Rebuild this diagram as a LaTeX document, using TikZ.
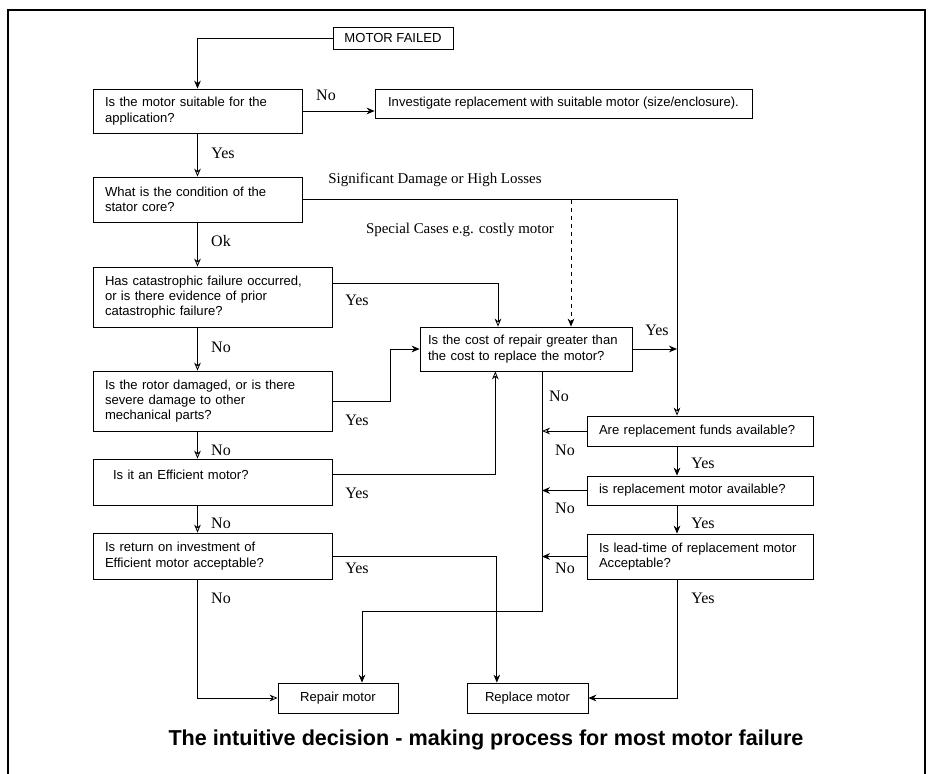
\documentclass[tikz,border=0pt]{standalone}
\usepackage{fontspec}
\setmainfont{Liberation Serif}
\setsansfont{Liberation Sans}
\usetikzlibrary{arrows.meta,positioning}

\begin{document}
\begin{tikzpicture}[x=0.75pt, y=-0.75pt,
  >=Stealth,
  box/.style={
    draw,
    line width=0.6pt,
    align=left,
    inner xsep=9pt,
    inner ysep=2pt,
    font=\sffamily\fontsize{9.8}{11.5}\selectfont
  },
  term/.style={box, align=center, inner xsep=4pt},
  lbl/.style={font=\fontsize{12}{14}\selectfont, inner sep=0pt},
  note/.style={font=\fontsize{11.2}{13}\selectfont, inner sep=0pt},
  arr/.style={-{Stealth[length=6pt,width=5pt]}, line width=0.6pt},
  oarr/.style={-{Stealth[open,length=6pt,width=5pt]}, line width=0.6pt}
]
\useasboundingbox (0,0) rectangle (931,774);
\draw[line width=0.9pt] (8,774) -- (8,10) -- (925,10) -- (925,774);

% left column
\node[term, minimum width=90pt, minimum height=16.5pt] (fail) at (393,38) {MOTOR FAILED};
\node[box, text width=138.75pt, minimum height=33pt] (suit) at (197.5,111)
{Is the motor suitable for the\\application?};
\node[term, minimum width=282.75pt, minimum height=21.75pt] (inv) at (563.5,103.5)
{Investigate replacement with suitable motor (size/enclosure).};
\node[box, text width=138.75pt, minimum height=33.75pt] (stat) at (197.5,199.5)
{What is the condition of the\\stator core?};
\node[box, text width=161.25pt, minimum height=45pt] (cat) at (212.5,297)
{Has catastrophic failure occurred,\\or is there evidence of prior\\catastrophic failure?};
\node[box, text width=161.25pt, minimum height=45pt] (rot) at (212.5,401)
{Is the rotor damaged, or is there\\severe damage to other\\mechanical parts?};
\node[box, text width=161.25pt, minimum height=34.5pt] (eff) at (212.5,482)
{\hspace*{6pt}Is it an Efficient motor?\\\mbox{}};
\node[box, text width=161.25pt, minimum height=34.5pt] (roi) at (212.5,556)
{Is return on investment of\\Efficient motor acceptable?};

% right side
\node[box, inner xsep=6pt, text width=147pt, minimum height=33pt] (cost) at (526,349)
{Is the cost of repair greater than\\the cost to replace the motor?};
\node[box, text width=151.5pt, minimum height=22.5pt] (fund) at (700,431)
{Are replacement funds available?};
\node[box, text width=151.5pt, minimum height=21.75pt] (avail) at (700,490.5)
{is replacement motor available?};
\node[box, text width=151.5pt, minimum height=33.75pt] (lead) at (700,556.5)
{Is lead-time of replacement motor\\Acceptable?};
\node[term, minimum width=90pt, minimum height=22.5pt] (fix) at (338,698) {Repair motor};
\node[term, minimum width=90.75pt, minimum height=22.5pt] (rep) at (527.5,698) {Replace motor};

\node[font=\sffamily\bfseries\fontsize{16.2}{19}\selectfont] (title) at (486,740)
{The intuitive decision - making process for most motor failure};

\coordinate (rj) at (677,0);
\coordinate (sp) at (571,0);
\coordinate (nl) at (542,611);

% connectors
\draw[arr] (fail.west) -| (suit.north);
\draw[arr] (suit.east) -- (suit.east -| inv.west);
\draw[oarr] (suit.south) -- (stat.north);
\draw[oarr] (stat.south) -- (stat.south |- cat.north);
\draw[oarr] (stat.east) -| (rj |- fund.north);
\draw[arr, dashed] (sp |- stat.east) -- (sp |- cost.north);
\draw[oarr] ([yshift=10.5pt]cat.east) -| ([xshift=-21pt]cost.north);
\draw[oarr] (stat.south |- cat.south) -- (stat.south |- rot.north);
\draw[arr] (rot.east) -- ++(58,0) |- (cost.west);
\draw[oarr] (stat.south |- rot.south) -- (stat.south |- eff.north);
\draw[oarr] ([yshift=6pt]eff.east) -| ([xshift=-23pt]cost.south);
\draw[oarr] (stat.south |- eff.south) -- (stat.south |- roi.north);
\draw[arr] (roi.east) -| ([xshift=-23pt]rep.north);
\draw[oarr] (stat.south |- roi.south) |- (fix.west);
\draw[arr] (cost.east) -- (cost.east -| rj);
\draw[arr] ([xshift=12pt]cost.south) -- (nl) -| ([xshift=18pt]fix.north);
\draw[oarr] (fund.west) -- (fund.west -| nl);
\draw[arr] (avail.west) -- (avail.west -| nl);
\draw[arr] (lead.west) -- (lead.west -| nl);
\draw[arr] (rj |- fund.south) -- (rj |- avail.north);
\draw[arr] (rj |- avail.south) -- (rj |- lead.north);
\draw[arr] (rj |- lead.south) |- (rep.east);

% labels
\node[lbl] (no1) at (326,95) {No};
\node[lbl] (yes1) at (223,153) {Yes};
\node[note] (sig) at (435,180) {Significant Damage or High Losses};
\node[note] (spc) at (460,230) {Special Cases e.g. costly motor};
\node[lbl] (ok) at (221,241) {Ok};
\node[lbl] (yes2) at (357,300) {Yes};
\node[lbl] (no2) at (221,347) {No};
\node[lbl] (yes3) at (357,420) {Yes};
\node[lbl] (no3) at (221,450) {No};
\node[lbl] (yes4) at (357,493) {Yes};
\node[lbl] (no4) at (221,523) {No};
\node[lbl] (yes5) at (357,568) {Yes};
\node[lbl] (no5) at (221,598) {No};
\node[lbl] (yes6) at (657,330) {Yes};
\node[lbl] (no6) at (559,396) {No};
\node[lbl] (no7) at (565,450) {No};
\node[lbl] (no8) at (565,508) {No};
\node[lbl] (no9) at (565,568) {No};
\node[lbl] (yes7) at (703,463) {Yes};
\node[lbl] (yes8) at (703,523) {Yes};
\node[lbl] (yes9) at (703,598) {Yes};
\end{tikzpicture}
\end{document}
